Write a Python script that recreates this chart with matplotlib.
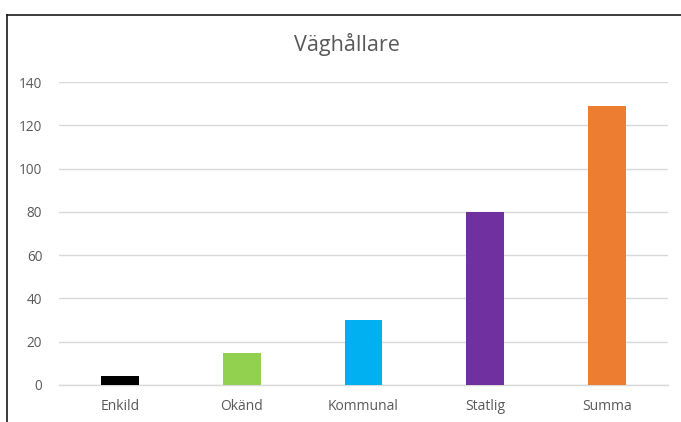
import matplotlib
matplotlib.use("Agg")
import matplotlib.pyplot as plt
from matplotlib.lines import Line2D

categories = ["Enkild", "Okänd", "Kommunal", "Statlig", "Summa"]
values = [4, 15, 30, 80, 129]
colors = ["#000000", "#92D050", "#00B0F0", "#7030A0", "#ED7D31"]
yticks = [0, 20, 40, 60, 80, 100, 120, 140]
title = "Väghållare"

plt.rcParams["font.family"] = ["Open Sans", "DejaVu Sans"]

fig = plt.figure(figsize=(6.81, 4.22), dpi=100)
ax = fig.add_axes([59/681, 1 - 385/422, (668 - 59)/681, (385 - 82)/422])

x = list(range(len(categories)))
ax.bar(x, values, width=0.31, color=colors, zorder=3)

ax.set_xlim(-0.5, len(categories) - 0.5)
ax.set_ylim(0, 140)
ax.set_yticks(yticks)
ax.set_xticks(x)
ax.set_xticklabels(categories, fontsize=10)
ax.yaxis.grid(True, color="#D9D9D9", linewidth=1.0, zorder=0)
ax.set_axisbelow(True)
for s in ["top", "right", "left"]:
    ax.spines[s].set_visible(False)
ax.spines["bottom"].set_color("#D9D9D9")
ax.spines["bottom"].set_linewidth(1.0)
ax.tick_params(axis="both", length=0, labelcolor="#595959")
ax.tick_params(axis="y", pad=12, labelsize=9.8)
ax.tick_params(axis="x", pad=10)

fig.text(346.5/681, 1 - 45/422, title, ha="center", va="center",
         fontsize=15.5, color="#595959")

# outer frame (top and left edges)
fig.add_artist(Line2D([7/681, 1.0], [1 - 14.5/422, 1 - 14.5/422], transform=fig.transFigure,
                      color="#1a1a1a", linewidth=1.2))
fig.add_artist(Line2D([7/681, 7/681], [0.0, 1 - 14.5/422], transform=fig.transFigure,
                      color="#1a1a1a", linewidth=1.2))

fig.savefig("out.png", dpi=100)
